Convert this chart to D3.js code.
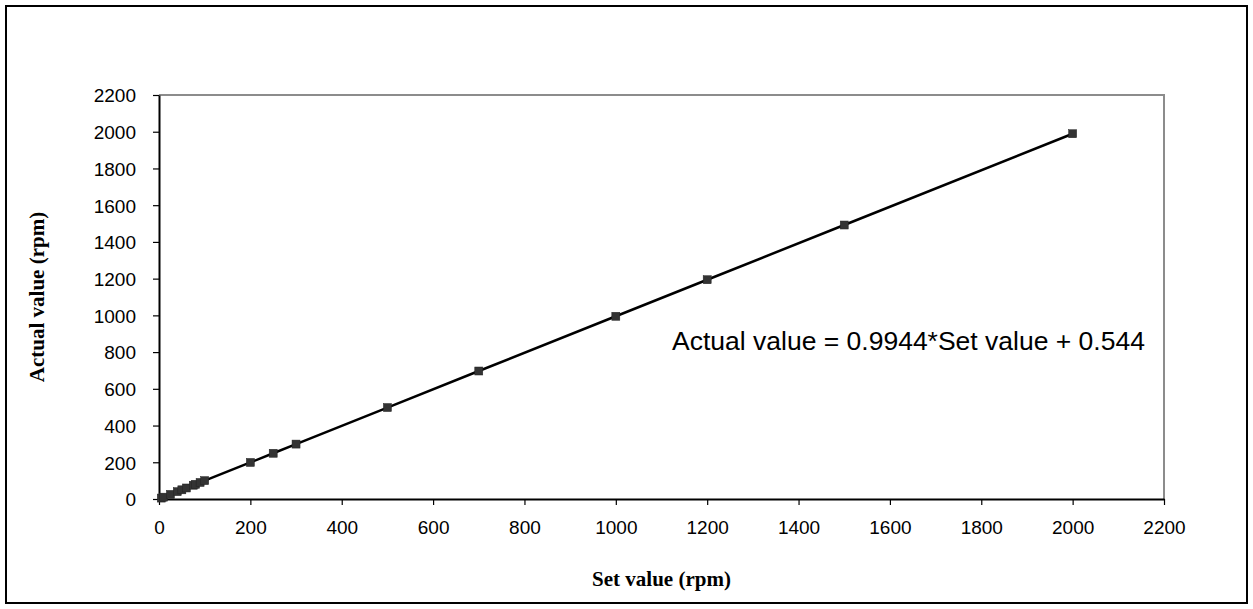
<!DOCTYPE html>
<html>
<head>
<meta charset="utf-8">
<script src="https://cdn.jsdelivr.net/npm/d3@7"></script>
<style>
  html, body { margin: 0; padding: 0; background: #fff; }
  svg { display: block; }
</style>
</head>
<body>
<svg id="chart" width="1253" height="609"></svg>
<script>
// Speed calibration: set value vs measured value (rpm)
const setValues    = [5, 10, 25, 40, 50, 60, 75, 80, 90, 100, 200, 250, 300, 500, 700, 1000, 1200, 1500, 2000];
const actualValues = [5, 10, 25, 40, 50, 60, 75, 80, 90, 100, 199, 249, 299, 498, 697, 995, 1194, 1492, 1989];
const xTicks = [0, 200, 400, 600, 800, 1000, 1200, 1400, 1600, 1800, 2000, 2200];
const yTicks = [0, 200, 400, 600, 800, 1000, 1200, 1400, 1600, 1800, 2000, 2200];
const equationText = "Actual value = 0.9944*Set value + 0.544";
const xTitle = "Set value (rpm)";
const yTitle = "Actual value (rpm)";

const svg = d3.select("#chart");
const W = 1253, H = 609;
const plot = { left: 159, right: 1164, top: 95, bottom: 499 };

// outer frame
svg.append("rect")
  .attr("x", 6).attr("y", 6).attr("width", W - 12).attr("height", H - 12)
  .attr("fill", "#fff").attr("stroke", "#000").attr("stroke-width", 2);

const x = d3.scaleLinear().domain([0, 2200]).range([plot.left, plot.right]);
const y = d3.scaleLinear().domain([0, 2200]).range([plot.bottom, plot.top]);

// plot area border (top and right, grey)
svg.append("path")
  .attr("d", `M${plot.left},${plot.top}H${plot.right}V${plot.bottom}`)
  .attr("fill", "none").attr("stroke", "#8c8c8c").attr("stroke-width", 2);

const tickFont = "'Liberation Sans', Arial, sans-serif";
const fmt = d3.format("d");

// x axis
const xAxis = svg.append("g")
  .attr("transform", `translate(0,${plot.bottom})`)
  .call(d3.axisBottom(x).tickValues(xTicks).tickFormat(fmt).tickSize(6).tickPadding(16).tickSizeOuter(0));
// y axis
const yAxis = svg.append("g")
  .attr("transform", `translate(${plot.left},0)`)
  .call(d3.axisLeft(y).tickValues(yTicks).tickFormat(fmt).tickSize(6).tickPadding(17).tickSizeOuter(0));

[xAxis, yAxis].forEach(g => {
  g.select(".domain").attr("stroke", "#000").attr("stroke-width", 2);
  g.selectAll(".tick line").attr("stroke", "#000").attr("stroke-width", 1.2);
  g.selectAll(".tick text")
    .attr("fill", "#000")
    .style("font-family", tickFont)
    .style("font-size", "19px");
});
yAxis.selectAll(".tick text").attr("dy", "0.36em");

// connecting line
const line = d3.line()
  .x((d, i) => x(setValues[i]))
  .y(d => y(d));
svg.append("path")
  .datum(actualValues)
  .attr("d", line)
  .attr("fill", "none")
  .attr("stroke", "#000")
  .attr("stroke-width", 2.5);

// square markers
svg.append("g").selectAll("rect")
  .data(actualValues)
  .join("rect")
  .attr("x", (d, i) => x(setValues[i]) - 4)
  .attr("y", d => y(d) - 4)
  .attr("width", 8).attr("height", 8)
  .attr("fill", "#333")
  .attr("stroke", "#222")
  .attr("stroke-width", 0.5);

// regression equation
svg.append("text")
  .attr("x", 672).attr("y", 350)
  .style("font-family", tickFont)
  .style("font-size", "26.5px")
  .attr("fill", "#000")
  .text(equationText);

// axis titles
const titleFont = "'Liberation Serif', 'Times New Roman', serif";
svg.append("text")
  .attr("x", (plot.left + plot.right) / 2).attr("y", 586)
  .attr("text-anchor", "middle")
  .style("font-family", titleFont)
  .style("font-size", "21px")
  .style("font-weight", "bold")
  .text(xTitle);

svg.append("text")
  .attr("transform", `translate(44,${(plot.top + plot.bottom) / 2}) rotate(-90)`)
  .attr("text-anchor", "middle")
  .style("font-family", titleFont)
  .style("font-size", "21px")
  .style("font-weight", "bold")
  .text(yTitle);
</script>
</body>
</html>
